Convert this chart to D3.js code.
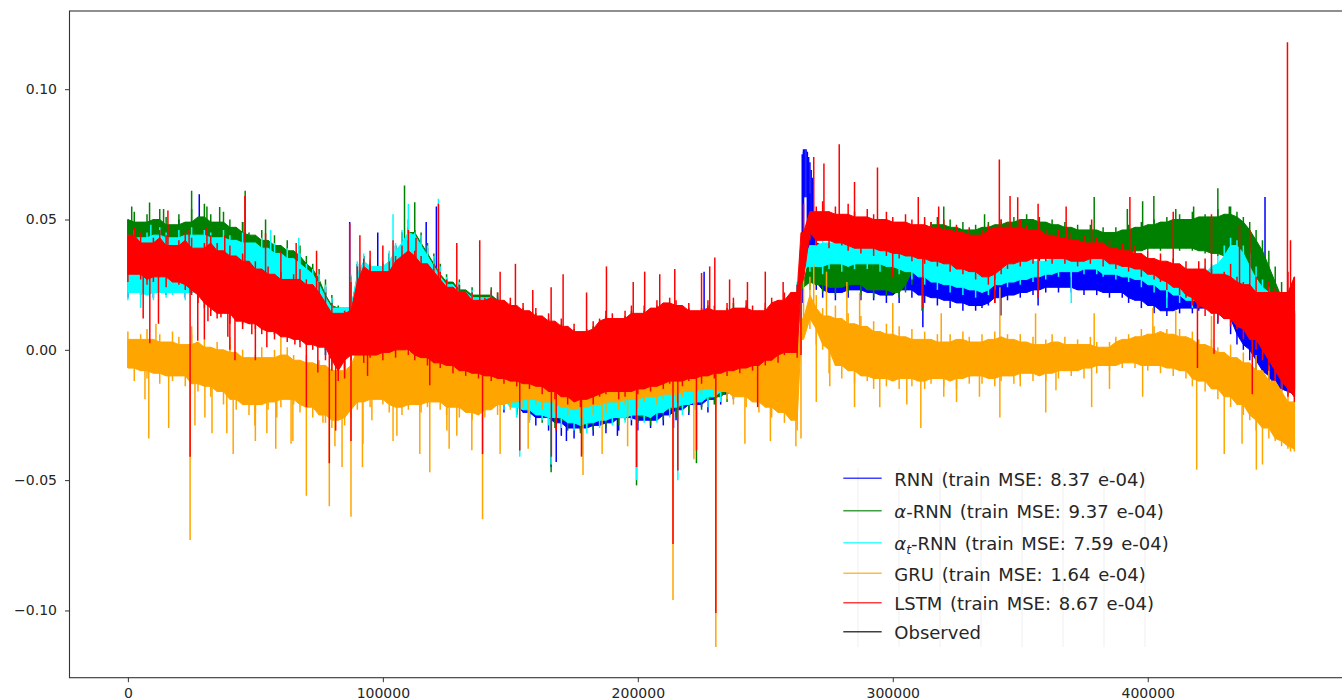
<!DOCTYPE html>
<html>
<head>
<meta charset="utf-8">
<script src="https://cdn.jsdelivr.net/npm/d3@7"></script>
<style>
  body { margin: 0; background: #fff; }
  svg { display: block; }
  text { font-family: "DejaVu Sans", sans-serif; }
</style>
</head>
<body>
<svg id="chart" width="1342" height="700"></svg>
<script>
// Sample positions (time index). Every series is kept as a windowed
// envelope (upper / lower value per window) plus its sharp excursions.
// Extra sample at 264000 marks the level break just before 265000.
const sampleX = [...d3.range(0, 265000, 2500), 264000, ...d3.range(265000, 460000, 2500)];

// ---------- RNN ----------
const rnnHi = [
  .043,.045,.042,.044,.043,.046,.044,.042,.045,.043,
  .046,.043,.045,.044,.042,.045,.043,.041,.044,.040,
  .040,.042,.038,.040,.036,.038,.034,.036,.032,.030,
  .028,.024,.019,.015,.015,.028,.033,.036,.034,.031,
  .033,.037,.040,.045,.047,.044,.043,.039,.035,.031,
  .027,.024,.025,.021,.022,.019,.019,.022,.020,.017,
  .016,.013,.014,.011,.012,.009,.010,.007,.008,.005,
  .006,.003,.004,.007,.008,.011,.010,.008,.011,.013,
  .010,.013,.012,.015,.014,.016,.015,.013,.014,.011,
  .012,.015,.013,.011,.014,.016,.012,.015,.013,.011,
  .014,.016,.015,.018,.019,.025,
  .036,
  .077,.060,.050,.041,.040,.042,.039,.041,.040,.038,
  .040,.038,.039,.037,.038,.036,.037,.035,.036,.034,
  .035,.033,.034,.032,.033,.031,.033,.031,.032,.030,
  .032,.030,.031,.033,.032,.034,.033,.035,.034,.035,
  .034,.035,.034,.035,.034,.035,.033,.034,.033,.032,
  .033,.031,.032,.030,.030,.028,.029,.027,.028,.026,
  .027,.025,.027,.028,.030,.029,.030,.028,.027,.024,
  .024,.020,.020,.016,.016,.015,.014,.014];
const rnnLo = [
  .020,.023,.021,.022,.020,.023,.021,.022,.023,.020,
  .023,.020,.018,.015,.014,.016,.012,.013,.010,.012,
  .010,.008,.009,.006,.007,.005,.006,.003,.004,.002,
  .003,-.002,-.006,-.010,-.009,-.002,.000,-.003,-.001,.000,
  -.002,.001,-.001,.002,.000,-.002,-.001,-.004,-.003,-.005,
  -.005,-.008,-.013,-.016,-.015,-.019,-.018,-.022,-.020,-.024,
  -.021,-.025,-.024,-.027,-.029,-.026,-.031,-.028,-.033,-.030,
  -.034,-.031,-.030,-.033,-.029,-.032,-.028,-.031,-.026,-.029,
  -.031,-.027,-.030,-.027,-.029,-.025,-.027,-.023,-.025,-.021,
  -.022,-.024,-.019,-.021,-.017,-.019,-.015,-.017,-.013,-.015,
  -.011,-.012,-.009,-.007,-.005,-.003,
  .000,
  .040,.026,.023,.020,.022,.019,.022,.020,.023,.019,
  .022,.019,.021,.018,.021,.018,.023,.020,.021,.018,
  .020,.017,.019,.016,.018,.015,.017,.015,.016,.017,
  .018,.020,.019,.021,.020,.022,.021,.023,.022,.024,
  .022,.024,.022,.023,.021,.023,.021,.022,.020,.022,
  .020,.018,.019,.016,.017,.014,.015,.013,.015,.014,
  .016,.014,.015,.016,.014,.010,.012,.006,.002,.000,
  -.004,-.008,-.010,-.014,-.015,-.016,-.017,-.018];
const rnnPeaks = [
  [3000,.046],[20000,.050],[28000,.0597],[45000,.049],[87000,.049],[98000,.045],
  [117000,.049],[121000,.055],[166000,-.045],[168000,-.043],[172000,-.035],
  [192000,-.033],[214000,-.030],[226000,.030],
  [264500,.075],[265000,.076],[265500,.077],[266000,.077],[266500,.076],[267000,.074],
  [267500,.072],[268000,.069],[268500,.066],
  [311800,.0087],[342400,.0132],[357000,.017],[446000,.0586]];

// ---------- alpha-RNN ----------
const alphaHi = [
  .050,.053,.049,.052,.050,.054,.051,.048,.052,.049,
  .054,.051,.056,.052,.049,.053,.050,.047,.049,.045,
  .044,.046,.042,.044,.040,.042,.038,.040,.036,.033,
  .031,.027,.021,.017,.016,.028,.033,.036,.034,.031,
  .033,.037,.040,.045,.050,.046,.045,.041,.037,.033,
  .029,.026,.027,.023,.024,.021,.021,.024,.022,.019,
  .018,.015,.016,.013,.014,.011,.012,.009,.010,.007,
  .008,.005,.006,.009,.010,.013,.012,.010,.013,.015,
  .012,.015,.014,.017,.016,.018,.017,.015,.016,.013,
  .014,.017,.015,.013,.016,.018,.014,.017,.015,.013,
  .016,.018,.017,.020,.020,.023,
  .024,
  .036,.039,.037,.035,.038,.036,.039,.037,.036,.038,
  .037,.039,.036,.038,.037,.039,.038,.041,.044,.048,
  .049,.051,.048,.050,.047,.049,.046,.048,.047,.049,
  .048,.050,.049,.051,.050,.052,.050,.051,.049,.050,
  .048,.049,.047,.048,.046,.048,.046,.047,.045,.047,
  .046,.048,.047,.049,.048,.050,.049,.051,.050,.052,
  .050,.053,.051,.052,.051,.054,.052,.055,.053,.051,
  .049,.046,.042,.038,.032,.026,.020,.015];
const alphaLo = [
  .030,.033,.031,.029,.030,.032,.028,.030,.029,.027,
  .025,.022,.020,.017,.016,.018,.014,.015,.012,.014,
  .012,.010,.011,.008,.009,.007,.008,.005,.006,.004,
  .005,.000,-.004,-.008,-.007,.000,.002,-.001,.001,.002,
  .000,.003,.001,.004,.002,.000,.001,-.002,-.001,-.003,
  -.004,-.008,-.010,-.013,-.012,-.016,-.015,-.019,-.017,-.021,
  -.020,-.024,-.021,-.026,-.023,-.028,-.025,-.030,-.027,-.031,
  -.028,-.032,-.029,-.031,-.027,-.030,-.026,-.029,-.027,-.025,
  -.028,-.026,-.029,-.025,-.027,-.023,-.026,-.022,-.024,-.020,
  -.023,-.019,-.021,-.018,-.020,-.016,-.018,-.014,-.016,-.012,
  -.013,-.010,-.011,-.007,-.006,-.004,
  .000,
  .026,.023,.025,.022,.024,.021,.024,.022,.025,.021,
  .023,.020,.023,.021,.022,.020,.022,.025,.030,.035,
  .036,.035,.036,.034,.035,.033,.034,.033,.034,.035,
  .035,.036,.036,.035,.036,.036,.036,.035,.036,.035,
  .036,.035,.036,.035,.036,.035,.035,.034,.035,.036,
  .036,.037,.037,.038,.038,.039,.038,.039,.039,.038,
  .039,.038,.038,.037,.037,.036,.036,.035,.033,.031,
  .028,.024,.020,.014,.008,.000,-.010,-.015];
const alphaPeaks = [
  [1500,.055],[8500,.0565],[14000,.054],[25000,.061],[31000,.055],[36000,.0548],
  [46000,.061],[54000,.050],[108500,.063],[112500,.0566],[166000,-.047],
  [178000,-.040],[199500,-.052],[223000,-.0435],[311500,.015],[320000,.055],
  [336000,.052],[379000,.0586],[392000,.054],[398000,.057],[402400,.059],
  [411000,.054],[418000,.055],[427500,.062],[432000,.055]];

// ---------- alpha_t-RNN ----------
const alphaTHi = [
  .044,.046,.043,.045,.044,.047,.045,.043,.046,.044,
  .047,.044,.046,.045,.043,.046,.044,.042,.045,.041,
  .041,.043,.039,.041,.037,.039,.035,.037,.033,.031,
  .029,.025,.020,.016,.016,.029,.034,.037,.035,.032,
  .034,.038,.041,.046,.048,.045,.044,.040,.036,.032,
  .028,.025,.026,.022,.023,.020,.020,.023,.021,.018,
  .017,.014,.015,.012,.013,.010,.011,.008,.009,.006,
  .007,.004,.005,.008,.009,.012,.011,.009,.012,.014,
  .011,.014,.013,.016,.015,.017,.016,.014,.015,.012,
  .013,.016,.014,.012,.015,.017,.013,.016,.014,.012,
  .015,.017,.016,.019,.020,.026,
  .034,
  .043,.040,.042,.044,.041,.043,.041,.044,.042,.040,
  .043,.041,.044,.042,.043,.041,.042,.040,.041,.039,
  .040,.037,.039,.036,.038,.036,.037,.035,.037,.035,
  .036,.038,.036,.035,.037,.035,.036,.034,.036,.037,
  .035,.037,.036,.038,.036,.038,.037,.036,.037,.035,
  .036,.034,.035,.033,.034,.032,.032,.030,.031,.029,
  .030,.028,.029,.032,.033,.036,.040,.043,.042,.040,
  .037,.032,.027,.024,.022,.020,.018,.015];
const alphaTLo = [
  .019,.022,.020,.021,.019,.022,.020,.021,.022,.019,
  .022,.020,.018,.015,.014,.016,.012,.013,.010,.012,
  .010,.008,.009,.006,.007,.005,.006,.003,.004,.002,
  .003,-.002,-.006,-.010,-.009,-.002,.000,-.003,-.001,.000,
  -.002,.001,-.001,.002,.000,-.002,-.001,-.004,-.003,-.005,
  -.004,-.007,-.012,-.015,-.014,-.018,-.017,-.021,-.019,-.023,
  -.022,-.026,-.023,-.028,-.025,-.027,-.029,-.026,-.030,-.028,
  -.031,-.029,-.032,-.028,-.030,-.027,-.029,-.026,-.028,-.027,
  -.025,-.028,-.026,-.028,-.024,-.026,-.022,-.025,-.021,-.023,
  -.020,-.022,-.018,-.020,-.016,-.018,-.014,-.016,-.012,-.014,
  -.010,-.011,-.008,-.006,-.004,-.002,
  .000,
  .032,.030,.032,.029,.031,.033,.030,.032,.031,.033,
  .031,.033,.030,.032,.031,.029,.030,.027,.028,.025,
  .026,.023,.025,.022,.024,.021,.023,.020,.022,.021,
  .023,.025,.024,.026,.025,.027,.026,.028,.027,.029,
  .028,.030,.028,.030,.029,.031,.029,.028,.029,.027,
  .028,.026,.027,.024,.025,.022,.023,.020,.021,.018,
  .019,.016,.018,.019,.021,.023,.024,.022,.020,.016,
  .012,.008,.004,.000,-.006,-.010,-.014,-.016];
const alphaTPeaks = [
  [5000,.016],[9000,.048],[56000,.046],[67000,.043],[104000,.052],[110000,.056],
  [121800,.058],[153700,-.041],[166000,-.044],[199500,-.050],[215700,-.050],
  [263000,.030],[370000,.018],[407500,.016],[437000,.028]];

// ---------- GRU ----------
const gruHi = [
  .007,.004,.006,.008,.004,.006,.003,.007,.005,.002,
  .006,.003,.004,.001,.003,.000,.002,-.001,.000,-.003,
  -.002,.001,-.003,.000,-.002,.001,-.002,-.004,-.002,-.005,
  -.004,-.006,-.005,-.008,-.006,.000,.002,.005,.003,.001,
  .003,.000,.002,.004,.001,-.001,.002,.000,-.002,.000,
  -.002,-.004,-.003,-.005,-.004,-.006,-.005,-.007,-.006,-.008,
  -.007,-.009,-.008,-.010,-.009,-.011,-.010,-.012,-.011,-.013,
  -.012,-.014,-.013,-.012,-.011,-.012,-.010,-.011,-.010,-.012,
  -.011,-.010,-.009,-.010,-.008,-.009,-.007,-.008,-.006,-.007,
  -.005,-.006,-.004,-.005,-.003,-.004,-.002,-.003,-.001,-.002,
  .000,.001,.002,.000,.003,.004,
  .004,
  .037,.028,.021,.016,.013,.017,.012,.014,.010,.013,
  .009,.011,.007,.010,.006,.009,.005,.008,.004,.007,
  .004,.006,.003,.006,.004,.007,.005,.003,.006,.004,
  .007,.005,.006,.004,.006,.003,.005,.002,.004,.006,
  .003,.005,.002,.004,.002,.005,.003,.001,.003,.005,
  .004,.006,.005,.008,.006,.009,.007,.008,.006,.008,
  .005,.007,.004,.002,.004,.001,-.001,.002,-.003,-.001,
  -.005,-.002,-.008,-.006,-.012,-.009,-.016,-.020];
const gruLo = [
  -.007,-.012,-.008,-.011,-.009,-.013,-.010,-.012,-.010,-.014,
  -.013,-.016,-.014,-.018,-.016,-.021,-.019,-.023,-.021,-.025,
  -.024,-.021,-.023,-.020,-.022,-.019,-.021,-.024,-.022,-.026,
  -.025,-.028,-.030,-.027,-.029,-.026,-.023,-.020,-.022,-.019,
  -.021,-.024,-.022,-.025,-.023,-.021,-.024,-.022,-.020,-.023,
  -.025,-.022,-.026,-.024,-.027,-.025,-.026,-.023,-.025,-.021,
  -.023,-.020,-.022,-.019,-.021,-.023,-.020,-.024,-.022,-.025,
  -.023,-.026,-.022,-.025,-.021,-.024,-.020,-.023,-.021,-.019,
  -.022,-.020,-.018,-.021,-.019,-.017,-.020,-.018,-.016,-.019,
  -.017,-.015,-.018,-.016,-.019,-.021,-.018,-.022,-.020,-.024,
  -.022,-.026,-.024,-.028,-.027,-.031,
  -.034,
  .012,.008,.002,.000,-.009,-.006,-.011,-.008,-.013,-.010,
  -.012,-.015,-.011,-.014,-.012,-.015,-.011,-.014,-.012,-.015,
  -.013,-.011,-.014,-.012,-.015,-.011,-.013,-.010,-.013,-.011,
  -.014,-.012,-.010,-.013,-.011,-.009,-.012,-.010,-.012,-.009,
  -.011,-.008,-.010,-.008,-.011,-.007,-.009,-.006,-.008,-.006,
  -.007,-.005,-.007,-.006,-.008,-.006,-.009,-.007,-.010,-.008,
  -.011,-.014,-.012,-.016,-.015,-.019,-.018,-.022,-.021,-.025,
  -.027,-.031,-.030,-.034,-.035,-.037,-.038,-.039];
const gruPeaks = [
  [6700,-.019],[8200,-.034],[16000,-.030],[24400,-.073],[26300,-.029],[30200,-.026],
  [33000,-.032],[38800,-.032],[41300,-.040],[49800,-.029],[50000,-.035],[54500,-.032],
  [58000,-.038],[58400,-.026],[64000,-.036],[64700,-.035],[70000,-.056],[76500,-.028],
  [79000,-.060],[81200,-.037],[84000,-.045],[87500,-.064],[92000,-.045],[92200,-.036],
  [95700,-.027],[104000,-.035],[105500,-.033],[114500,-.040],[118400,-.047],[125100,-.031],
  [126000,-.038],[129000,-.033],[134900,-.0385],[139100,-.065],[146000,-.040],
  [157000,-.038],[178500,-.048],[186000,-.040],[196000,-.037],[213800,-.096],[222000,-.042],
  [230600,-.114],[242000,-.036],[252000,-.035],[262000,-.037],[270000,-.020],[275300,-.014],
  [285000,-.022],[294900,-.022],[305500,-.021],[311000,-.030],[320000,-.018],[325000,-.020],
  [334000,-.018],[342000,-.026],[350000,-.014],[360000,-.024],[364000,-.0155],[378000,-.022],
  [385000,-.015],[398000,-.018],
  [419200,-.046],[430000,-.040],[437000,-.036],[442600,-.046],[445000,-.044],[456000,-.039],
  [11000,.010],[25000,.009],[40000,.005],[60000,.008],[85000,.012],[100000,.013],[115000,.010],
  [269000,.033],[274000,.030],[282000,.026],[287000,.022],[300000,.018],[319000,.014],
  [342000,.024],[356000,.014],[379000,.014],[402000,.016],[411000,.015],[425000,.013]];

// ---------- LSTM ----------
const lstmHi = [
  .044,.047,.045,.041,.043,.046,.044,.040,.042,.045,
  .043,.039,.041,.044,.041,.038,.040,.036,.037,.034,
  .034,.031,.032,.029,.030,.027,.029,.031,.027,.025,
  .026,.022,.018,.014,.015,.026,.032,.035,.033,.030,
  .030,.034,.036,.040,.042,.038,.036,.033,.033,.030,
  .027,.024,.025,.022,.022,.019,.020,.023,.022,.019,
  .020,.017,.018,.015,.016,.013,.014,.011,.012,.009,
  .010,.007,.008,.011,.012,.015,.014,.012,.015,.017,
  .014,.017,.016,.019,.018,.020,.019,.017,.018,.015,
  .016,.019,.017,.015,.018,.020,.016,.019,.017,.015,
  .018,.020,.019,.022,.022,.025,
  .027,
  .056,.053,.055,.057,.053,.055,.052,.056,.053,.051,
  .054,.052,.050,.053,.051,.049,.052,.050,.048,.051,
  .049,.047,.050,.046,.048,.045,.047,.044,.046,.048,
  .047,.050,.049,.047,.050,.048,.046,.049,.046,.044,
  .046,.043,.045,.042,.044,.041,.043,.041,.042,.039,
  .041,.038,.040,.037,.038,.035,.037,.034,.035,.033,
  .034,.031,.034,.035,.031,.029,.030,.033,.028,.026,
  .025,.028,.022,.026,.024,.022,.030,.028];
const lstmLo = [
  .026,.029,.027,.025,.026,.028,.024,.026,.025,.023,
  .021,.018,.016,.013,.012,.014,.010,.011,.008,.010,
  .008,.006,.007,.004,.005,.003,.004,.001,.002,.000,
  .001,-.004,-.008,-.012,-.011,-.004,-.002,-.005,-.003,-.002,
  -.004,-.001,-.003,.000,-.002,-.004,-.003,-.006,-.005,-.007,
  -.006,-.009,-.008,-.010,-.009,-.011,-.010,-.012,-.011,-.013,
  -.012,-.014,-.013,-.015,-.014,-.017,-.016,-.019,-.018,-.021,
  -.020,-.022,-.019,-.021,-.018,-.017,-.016,-.019,-.018,-.016,
  -.017,-.015,-.016,-.014,-.015,-.013,-.012,-.014,-.012,-.011,
  -.013,-.010,-.011,-.009,-.010,-.008,-.009,-.007,-.008,-.006,
  -.006,-.004,-.005,-.002,-.001,-.003,
  -.002,
  .045,.042,.040,.042,.039,.041,.040,.038,.039,.037,
  .039,.036,.038,.036,.037,.035,.036,.034,.035,.033,
  .034,.032,.033,.030,.031,.029,.030,.027,.028,.025,
  .027,.029,.031,.033,.032,.034,.033,.035,.034,.033,
  .035,.033,.034,.032,.034,.033,.035,.032,.033,.031,
  .032,.030,.031,.028,.029,.027,.026,.023,.024,.021,
  .020,.017,.016,.013,.014,.011,.012,.009,.008,.004,
  .004,.000,-.004,-.008,-.012,-.015,-.018,-.020];
const lstmPeaks = [
  [15700,.0535],[24000,.046],[31000,.047],[38000,.044],[45900,.059],[54000,.0447],
  [60000,.038],[66000,.041],[74000,.038],[87000,.0485],[91000,.044],[95000,.038],
  [100000,.040],[104000,.042],[110000,.046],[113000,.043],[121800,.056],[129000,.041],
  [138000,.042],[146000,.030],[152000,.033],[158800,.023],[166000,.024],[170700,.029],
  [179900,.022],[187700,.032],[198200,.026],[202700,.030],[208600,.029],[214500,.031],
  [225000,.0295],[228200,.032],[230200,.0354],[236000,.027],[243000,.026],[250000,.030],
  [257000,.026],[269000,.074],[273000,.0715],[279000,.0789],[285000,.0644],[294000,.070],
  [310000,.0586],[318000,.055],[341800,.073],[346000,.059],[349000,.0585],[357000,.056],
  [368000,.055],[378000,.050],[393000,.0586],[410000,.053],[425000,.052],[436000,.048],
  [440000,.046],[454800,.118],[456000,.042],
  [6000,.012],[8600,.0025],[12000,.010],[24400,-.041],[27400,.0035],[30000,.004],
  [31400,.011],[36500,.0125],[39200,.005],[40000,.000],[42000,-.004],[48600,.006],
  [50000,-.004],[54500,.001],[65500,.002],[70000,-.022],[74500,-.0087],
  [79000,-.0435],[81500,-.031],[87500,-.035],[94000,-.010],[118400,-.0136],
  [139100,-.040],[153700,-.0386],[166100,-.041],[168000,-.031],[177900,-.041],[199500,-.045],
  [213800,-.0745],[215700,-.0463],[223000,-.0386],[230600,-.101],[247000,-.022],[300000,.028],
  [311800,.016],[340000,.018],[357000,.020],[419500,-.007],[426000,-.0015],[441000,-.017],
  [450000,-.012]];

const legendLabels = [
  "RNN (train MSE: 8.37 e-04)",
  "α-RNN (train MSE: 9.37 e-04)",
  "αt-RNN (train MSE: 7.59 e-04)",
  "GRU (train MSE: 1.64 e-04)",
  "LSTM (train MSE: 8.67 e-04)",
  "Observed"
];
const xTicks = [0, 100000, 200000, 300000, 400000];
const yTicks = [-0.10, -0.05, 0.00, 0.05, 0.10];

// Drawing order: later series sit on top.
const series = [
  { hi: rnnHi,    lo: rnnLo,    peaks: rnnPeaks,    color: "#0000ff" },
  { hi: alphaHi,  lo: alphaLo,  peaks: alphaPeaks,  color: "#008000" },
  { hi: alphaTHi, lo: alphaTLo, peaks: alphaTPeaks, color: "#00ffff" },
  { hi: gruHi,    lo: gruLo,    peaks: gruPeaks,    color: "#ffa500" },
  { hi: lstmHi,   lo: lstmLo,   peaks: lstmPeaks,   color: "#ff0000" }
];
const legendColors = ["#0000ff", "#008000", "#00ffff", "#ffa500", "#ff0000", "#000000"];

const svg = d3.select("#chart");
const plot = { left: 69.5, right: 1354, top: 11, bottom: 677.7 };

const x = d3.scaleLinear().domain([-22900, 480900]).range([plot.left, plot.right]);
const y = d3.scaleLinear().domain([-0.1258, 0.1300]).range([plot.bottom, plot.top]);

svg.append("clipPath").attr("id", "plotClip")
  .append("rect")
  .attr("x", plot.left).attr("y", plot.top)
  .attr("width", plot.right - plot.left).attr("height", plot.bottom - plot.top);

const layer = svg.append("g").attr("clip-path", "url(#plotClip)");
const idx = d3.range(sampleX.length);
const n = sampleX.length;

series.forEach(s => {
  // solid body: the range every neighbouring window shares
  const bodyHi = i => Math.min(s.hi[Math.max(i - 1, 0)], s.hi[i], s.hi[Math.min(i + 1, n - 1)]);
  const bodyLo = i => Math.max(s.lo[Math.max(i - 1, 0)], s.lo[i], s.lo[Math.min(i + 1, n - 1)]);
  const area = d3.area()
    .x(i => x(sampleX[i]))
    .y0(i => y(Math.min(bodyLo(i), bodyHi(i))))
    .y1(i => y(Math.max(bodyLo(i), bodyHi(i))));
  const g = layer.append("g");
  g.append("path")
    .attr("d", area(idx))
    .attr("fill", s.color)
    .attr("stroke", s.color)
    .attr("stroke-width", 1);

  // full extent of each window as a thin stroke
  g.append("g").selectAll("line").data(idx).join("line")
    .attr("x1", i => x(sampleX[i])).attr("x2", i => x(sampleX[i]))
    .attr("y1", i => y(s.lo[i])).attr("y2", i => y(s.hi[i]))
    .attr("stroke", s.color)
    .attr("stroke-width", 1.5);

  // sharp excursions, drawn from the centre of the nearest window
  g.append("g").selectAll("line").data(s.peaks).join("line")
    .attr("x1", d => x(d[0])).attr("x2", d => x(d[0]))
    .attr("y1", d => {
      const k = d3.minIndex(sampleX, v => Math.abs(v - d[0]));
      return y((s.hi[k] + s.lo[k]) / 2);
    })
    .attr("y2", d => y(d[1]))
    .attr("stroke", s.color)
    .attr("stroke-width", 1.5);
});

// Axes
const xAxis = d3.axisBottom(x).tickValues(xTicks).tickFormat(d3.format("d"))
  .tickSize(4.5).tickPadding(6);
const yAxis = d3.axisLeft(y).tickValues(yTicks).tickFormat(d3.format(".2f"))
  .tickSize(4.5).tickPadding(8);

const gx = svg.append("g").attr("transform", `translate(0,${plot.bottom})`).call(xAxis);
const gy = svg.append("g").attr("transform", `translate(${plot.left},0)`).call(yAxis);
[gx, gy].forEach(g => {
  g.select(".domain").remove();
  g.selectAll(".tick line").attr("stroke", "#333").attr("stroke-width", 1);
  g.selectAll(".tick text")
    .attr("fill", "#262626")
    .style("font-family", "'DejaVu Sans', sans-serif")
    .style("font-size", "14px");
});

// Frame
svg.append("rect")
  .attr("x", plot.left).attr("y", plot.top)
  .attr("width", plot.right - plot.left).attr("height", plot.bottom - plot.top)
  .attr("fill", "none").attr("stroke", "#333").attr("stroke-width", 1.1);

// Legend
const legend = svg.append("g").attr("class", "legend");
legend.append("rect")
  .attr("x", 836).attr("y", 465).attr("width", 345).attr("height", 184)
  .attr("fill", "#ffffff").attr("fill-opacity", 0.8);
legend.selectAll("line.rule").data(d3.range(858, 1150, 41)).join("line")
  .attr("class", "rule")
  .attr("x1", d => d).attr("x2", d => d)
  .attr("y1", 468).attr("y2", 647)
  .attr("stroke", "#efefef").attr("stroke-width", 1);

const rowY = [478.3, 510.7, 542.7, 573.3, 602.7, 631.7];
legendLabels.forEach((label, i) => {
  const g = legend.append("g");
  g.append("line")
    .attr("x1", 843.3).attr("x2", 881.7)
    .attr("y1", rowY[i]).attr("y2", rowY[i])
    .attr("stroke", legendColors[i]).attr("stroke-width", 1.5)
    .attr("stroke-opacity", 0.75);
  const t = g.append("text")
    .attr("x", 894.3).attr("y", rowY[i] + 7.3)
    .attr("fill", "#262626")
    .style("font-size", "18px")
    .style("word-spacing", "2px");
  if (label.startsWith("αt")) {
    t.append("tspan").attr("font-style", "italic").text("α");
    t.append("tspan").attr("font-style", "italic").attr("dy", 4)
      .style("font-size", "12.5px").text("t");
    t.append("tspan").attr("dy", -4).text(label.slice(2));
  } else if (label.startsWith("α")) {
    t.append("tspan").attr("font-style", "italic").text("α");
    t.append("tspan").text(label.slice(1));
  } else {
    t.text(label);
  }
});
</script>
</body>
</html>
